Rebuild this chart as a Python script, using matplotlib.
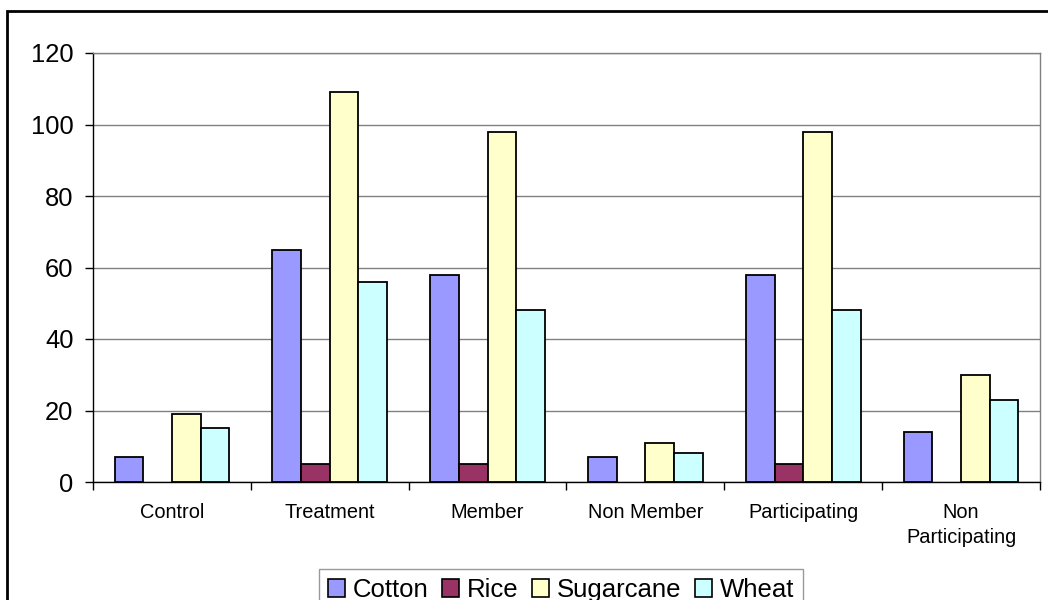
import matplotlib
matplotlib.use("Agg")
import matplotlib.pyplot as plt
import matplotlib.patches as mpatches
import numpy as np

categories = ["Control", "Treatment", "Member", "Non Member", "Participating", "Non\nParticipating"]
series_names = ["Cotton", "Rice", "Sugarcane", "Wheat"]
cotton = [7, 65, 58, 7, 58, 14]
rice = [0, 5, 5, 0, 5, 0]
sugarcane = [19, 109, 98, 11, 98, 30]
wheat = [15, 56, 48, 8, 48, 23]
colors = ["#9999FF", "#993366", "#FFFFCC", "#CCFFFF"]
yticks = [0, 20, 40, 60, 80, 100, 120]

plt.rcParams['font.family'] = ['Liberation Sans', 'DejaVu Sans']

W, H = 1048, 600
fig = plt.figure(figsize=(W / 100, H / 100), dpi=100)
ax = fig.add_axes([93 / W, 1 - 482 / H, (1040 - 93) / W, (482 - 53) / H])

x = np.arange(len(categories))
bw = 1 / 5.5
values = [cotton, rice, sugarcane, wheat]
for i, (name, vals, c) in enumerate(zip(series_names, values, colors)):
    pos = x + (i - 1.5) * bw
    v = np.array(vals, dtype=float)
    lw = np.where(v > 0, 1.3, 0.0)
    ax.bar(pos, v, width=bw, color=c, edgecolor="black", linewidth=lw,
           label=name, zorder=3)

ax.set_xlim(-0.5, len(categories) - 0.5)
ax.set_ylim(0, 120)
ax.set_yticks(yticks)
ax.tick_params(axis='y', labelsize=18.4, length=6, width=1, direction='out', pad=8)
ax.yaxis.grid(True, color="#808080", linewidth=1, zorder=0)
ax.set_axisbelow(True)

ax.set_xticks(np.arange(len(categories) + 1) - 0.5)
ax.set_xticklabels([])
ax.tick_params(axis='x', which='major', length=6, width=1, direction='out')
ax.set_xticks(x, minor=True)
ax.set_xticklabels(categories, minor=True, fontsize=14.4, linespacing=1.4)
ax.tick_params(axis='x', which='minor', length=0, pad=15)

for s in ['top', 'right']:
    ax.spines[s].set_color("#808080")
    ax.spines[s].set_linewidth(1)
for s in ['left', 'bottom']:
    ax.spines[s].set_color("black")
    ax.spines[s].set_linewidth(1)

leg = fig.legend(loc='upper left', bbox_to_anchor=(319 / W, 1 - 569 / H),
                 ncol=4, fontsize=18.5, frameon=True, fancybox=False,
                 edgecolor="#808080", handlelength=0.65, handleheight=0.65,
                 handletextpad=0.3, columnspacing=0.55, borderpad=0.35,
                 borderaxespad=0)
leg.get_frame().set_linewidth(1)
for h in leg.legend_handles:
    h.set_linewidth(1.2)

border = mpatches.Rectangle((7 / W, -0.5), 2.0, 1.5 - 11 / H, transform=fig.transFigure,
                            fill=False, edgecolor="black", linewidth=2)
fig.patches.append(border)

fig.savefig("out.png", dpi=100)
